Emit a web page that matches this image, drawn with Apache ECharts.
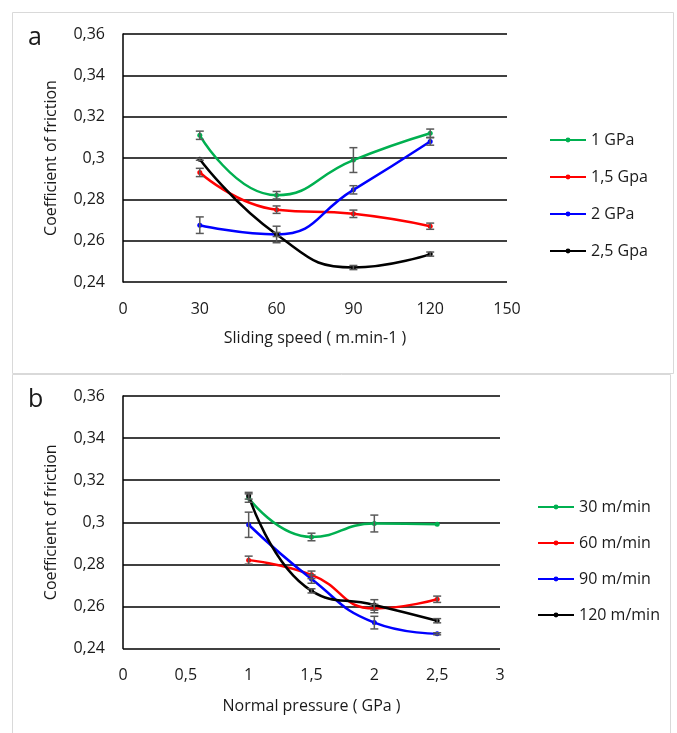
<!DOCTYPE html>
<html>
<head>
<meta charset="utf-8">
<script src="https://cdn.jsdelivr.net/npm/echarts@6/dist/echarts.min.js"></script>
<style>html,body{margin:0;padding:0;background:#fff;}#c{width:677px;height:733px;}</style>
</head>
<body>
<div id="c"></div>
<script>
// ---- Panel a: coefficient of friction vs sliding speed ----
const speeds = [30, 60, 90, 120];
const speedTicks = [0, 30, 60, 90, 120, 150];
const a_1GPa   = [0.311, 0.282, 0.299, 0.312];
const a_1GPaErr = [0.002, 0.0018, 0.006, 0.002];
const a_15GPa  = [0.293, 0.275, 0.273, 0.267];
const a_15GPaErr = [0.002, 0.0018, 0.0018, 0.0015];
const a_2GPa   = [0.2675, 0.263, 0.2846, 0.308];
const a_2GPaErr = [0.004, 0.004, 0.002, 0.0018];
const a_25GPa  = [0.2994, 0.263, 0.247, 0.2535];
const a_25GPaErr = [0.0005, 0.001, 0.001, 0.001];
const aNames = ['1 GPa', '1,5 Gpa', '2 GPa', '2,5 Gpa'];

// ---- Panel b: coefficient of friction vs normal pressure ----
const pressures = [1, 1.5, 2, 2.5];
const pressureTicks = [0, 0.5, 1, 1.5, 2, 2.5, 3];
const b_30  = [0.3115, 0.293, 0.2994, 0.299];
const b_30Err = [0.002, 0.0018, 0.004, 0];
const b_60  = [0.282, 0.275, 0.259, 0.2634];
const b_60Err = [0.0019, 0.0018, 0.002, 0.0015];
const b_90  = [0.2988, 0.273, 0.2523, 0.247];
const b_90Err = [0.006, 0.002, 0.003, 0.0005];
const b_120 = [0.3126, 0.2674, 0.2607, 0.2532];
const b_120Err = [0.0016, 0.001, 0.0025, 0.001];
const bNames = ['30 m/min', '60 m/min', '90 m/min', '120 m/min'];

const yTicks = [0.24, 0.26, 0.28, 0.30, 0.32, 0.34, 0.36];
const colors = ['#00b050', '#ff0000', '#0000ff', '#000000'];

const FONT = 'Open Sans';
const fmt = v => String(+(+v).toFixed(2)).replace('.', ',');

function lineSeries(name, xi, xs, ys, color) {
  return {
    name, type: 'line', xAxisIndex: xi, yAxisIndex: xi,
    data: xs.map((x, i) => [x, ys[i]]),
    smooth: 0.5, symbol: 'circle', symbolSize: 5, showSymbol: true,
    lineStyle: { color, width: 2.5 }, itemStyle: { color },
    z: 2, silent: true
  };
}
function errSeries(xi, xs, ys, es) {
  return {
    type: 'custom', xAxisIndex: xi, yAxisIndex: xi, silent: true, z: 3,
    data: xs.map((x, i) => [x, ys[i], es[i]]),
    encode: { x: 0, y: 1 },
    renderItem: (params, api) => {
      const x = api.value(0), y = api.value(1), e = api.value(2);
      if (!e) return null;
      const t = api.coord([x, y + e]), b = api.coord([x, y - e]);
      const w = 4, st = { stroke: '#595959', lineWidth: 1.5 };
      return { type: 'group', children: [
        { type: 'line', shape: { x1: t[0], y1: t[1], x2: b[0], y2: b[1] }, style: st },
        { type: 'line', shape: { x1: t[0] - w, y1: t[1], x2: t[0] + w, y2: t[1] }, style: st },
        { type: 'line', shape: { x1: b[0] - w, y1: b[1], x2: b[0] + w, y2: b[1] }, style: st }
      ]};
    }
  };
}

const axisText = { fontFamily: FONT, fontSize: 16, color: '#1a1a1a' };

function xAxis(gi, ticks, name, gap) {
  return {
    type: 'value', gridIndex: gi, min: ticks[0], max: ticks[ticks.length - 1],
    interval: ticks[1] - ticks[0],
    axisLine: { show: false }, axisTick: { show: false }, splitLine: { show: false },
    axisLabel: { ...axisText, margin: 19, formatter: fmt },
    name, nameLocation: 'middle', nameGap: gap, nameTextStyle: { ...axisText }
  };
}
function yAxis(gi) {
  return {
    type: 'value', gridIndex: gi, min: yTicks[0], max: yTicks[yTicks.length - 1], interval: 0.02,
    axisLine: { show: true, lineStyle: { color: '#000', width: 1.5 } },
    axisTick: { show: false },
    splitLine: { show: true, lineStyle: { color: '#000', width: 1.5 } },
    axisLabel: { ...axisText, margin: 18, formatter: fmt },
    name: 'Coefficient of friction', nameLocation: 'middle', nameGap: 64, nameRotate: 90,
    nameTextStyle: { ...axisText }
  };
}

const legendText = { fontFamily: FONT, fontSize: 16, color: '#1a1a1a' };

const option = {
  animation: false,
  backgroundColor: '#fff',
  textStyle: { fontFamily: FONT },
  grid: [
    { left: 123, top: 34, width: 384, height: 248 },
    { left: 123, top: 396, width: 377, height: 252.5 }
  ],
  xAxis: [xAxis(0, speedTicks, 'Sliding speed ( m.min-1 )', 48), xAxis(1, pressureTicks, 'Normal pressure ( GPa )', 50)],
  yAxis: [yAxis(0), yAxis(1)],
  legend: [
    { data: aNames, orient: 'vertical', left: 544, top: 127, itemGap: 21, itemWidth: 36, itemHeight: 6,
      textStyle: legendText, selectedMode: false },
    { data: bNames, orient: 'vertical', left: 532, top: 494, itemGap: 20, itemWidth: 36, itemHeight: 6,
      textStyle: legendText, selectedMode: false }
  ],
  graphic: [
    { type: 'rect', shape: { x: 12.5, y: 12.5, width: 661, height: 361 }, style: { fill: 'none', stroke: '#d9d9d9', lineWidth: 1 }, silent: true },
    { type: 'rect', shape: { x: 12.5, y: 374.5, width: 658, height: 370 }, style: { fill: 'none', stroke: '#d9d9d9', lineWidth: 1 }, silent: true },
    { type: 'text', left: 28, top: 25, style: { text: 'a', fontFamily: FONT, fontSize: 25, fill: '#1a1a1a' } },
    { type: 'text', left: 28, top: 387, style: { text: 'b', fontFamily: FONT, fontSize: 25, fill: '#1a1a1a' } }
  ],
  series: [
    lineSeries(aNames[0], 0, speeds, a_1GPa, colors[0]),
    lineSeries(aNames[1], 0, speeds, a_15GPa, colors[1]),
    lineSeries(aNames[2], 0, speeds, a_2GPa, colors[2]),
    lineSeries(aNames[3], 0, speeds, a_25GPa, colors[3]),
    errSeries(0, speeds, a_1GPa, a_1GPaErr),
    errSeries(0, speeds, a_15GPa, a_15GPaErr),
    errSeries(0, speeds, a_2GPa, a_2GPaErr),
    errSeries(0, speeds, a_25GPa, a_25GPaErr),
    lineSeries(bNames[0], 1, pressures, b_30, colors[0]),
    lineSeries(bNames[1], 1, pressures, b_60, colors[1]),
    lineSeries(bNames[2], 1, pressures, b_90, colors[2]),
    lineSeries(bNames[3], 1, pressures, b_120, colors[3]),
    errSeries(1, pressures, b_30, b_30Err),
    errSeries(1, pressures, b_60, b_60Err),
    errSeries(1, pressures, b_90, b_90Err),
    errSeries(1, pressures, b_120, b_120Err)
  ]
};
const chart = echarts.init(document.getElementById('c'), null, { renderer: 'canvas' });
chart.setOption(option);
</script>
</body>
</html>
